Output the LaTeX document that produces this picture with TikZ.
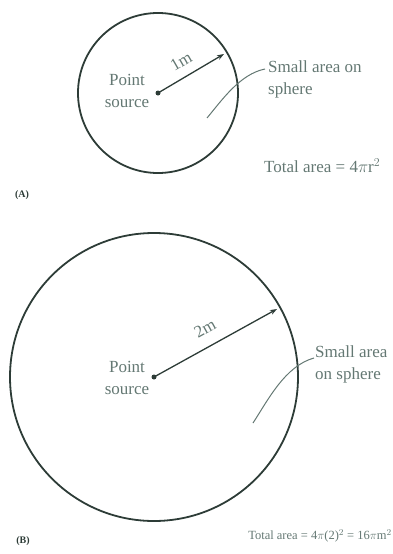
\documentclass[tikz,border=0pt]{standalone}
\usepackage{fontspec}
\setmainfont{Liberation Serif}
\usetikzlibrary{arrows.meta}
\definecolor{txtc}{RGB}{100,120,115}
\definecolor{linec}{RGB}{45,60,55}
\begin{document}
\begin{tikzpicture}[x=1pt,y=-1pt,
  sphere/.style={draw=linec,line width=1.8pt},
  radius/.style={draw=linec,line width=1.3pt,-{Stealth[length=7pt,width=5pt]}},
  leader/.style={draw=txtc,line width=1pt},
  lbl/.style={text=txtc,font=\fontsize{17}{22}\selectfont,inner sep=0pt},
  small/.style={text=txtc,font=\fontsize{12.5}{15}\selectfont,inner sep=0pt},
  tag/.style={text=linec,font=\fontsize{10}{12}\selectfont\bfseries,inner sep=0pt}]
\useasboundingbox (0,0) rectangle (393,554);
% (A)
\coordinate (oA) at (158,93);
\coordinate (eA) at (224,54);
\draw[sphere] (oA) circle (80);
\fill[linec] (oA) circle (2.5);
\draw[radius] (oA) -- (eA);
\node[lbl,rotate=30] (mA) at (181,61) {1m};
\node[lbl,align=center] (psA) at (127,91) {Point\\source};
\coordinate (lA1) at (207,118);
\coordinate (lA2) at (265,69);
\draw[leader] (lA1) .. controls (222,100) and (240,74) .. (lA2);
\node[lbl,align=left,anchor=west] (saA) at (268,79) {Small area on\\sphere};
\node[lbl,anchor=west] (taA) at (264,166) {Total area = 4$\pi$r$^2$};
\node[tag] (tA) at (22,195) {(A)};
% (B)
\coordinate (oB) at (154,377);
\coordinate (eB) at (277,309);
\draw[sphere] (oB) circle (144);
\fill[linec] (oB) circle (2.5);
\draw[radius] (oB) -- (eB);
\node[lbl,rotate=29] (mB) at (205,328) {2m};
\node[lbl,align=center] (psB) at (127,378) {Point\\source};
\coordinate (lB1) at (253,423);
\coordinate (lB2) at (314,358);
\draw[leader] (lB1) .. controls (268,400) and (285,366) .. (lB2);
\node[lbl,align=left,anchor=west] (saB) at (315,364) {Small area\\on sphere};
\node[small,anchor=east] (taB) at (392,536) {Total area = 4$\pi$(2)$^2$ = 16$\pi$m$^2$};
\node[tag] (tB) at (23,541) {(B)};
\end{tikzpicture}
\end{document}
